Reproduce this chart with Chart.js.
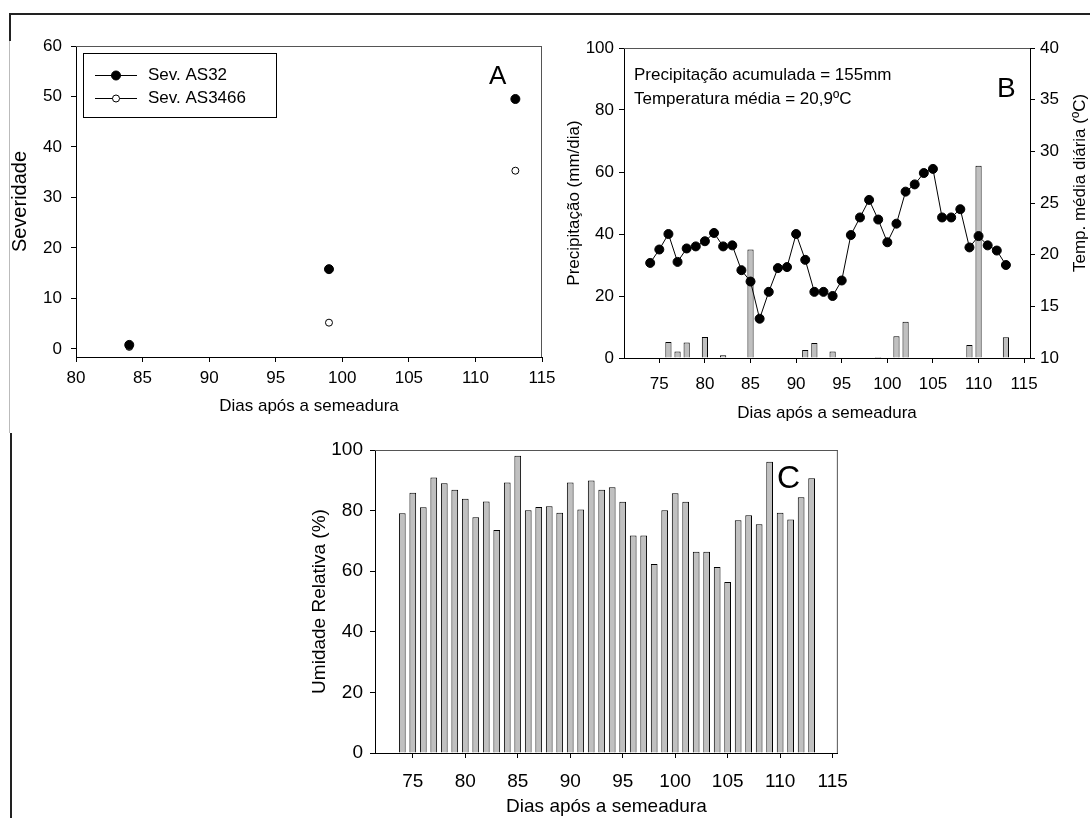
<!DOCTYPE html>
<html>
<head>
<meta charset="utf-8">
<script src="https://cdn.jsdelivr.net/npm/chart.js@4.4.0/dist/chart.umd.min.js"></script>
<style>
  html, body { margin: 0; padding: 0; background: #fff; }
  body { width: 1090px; height: 818px; position: relative; overflow: hidden; font-family: "Liberation Sans", Arial, sans-serif; }
  canvas { position: absolute; }
  .ln { position: absolute; }
  .txt { position: absolute; color: #000; white-space: nowrap; line-height: 1; transform: translateY(-50%); }
</style>
</head>
<body>
<!-- page border -->
<div class="ln" style="left:9px;top:13px;width:1081px;height:2px;background:#222"></div>
<div class="ln" style="left:9px;top:13px;width:2px;height:28px;background:#222"></div>
<div class="ln" style="left:9px;top:41px;width:1px;height:392px;background:#bbb"></div>
<div class="ln" style="left:10px;top:433px;width:2px;height:385px;background:#222"></div>

<canvas id="chartA" width="562" height="420" style="left:0;top:0"></canvas>
<canvas id="chartB" width="550" height="430" style="left:540px;top:0"></canvas>
<canvas id="chartC" width="560" height="388" style="left:300px;top:430px"></canvas>

<div class="txt" style="left:489px;top:75px;font-size:26px">A</div>
<div class="txt" style="left:634px;top:74px;font-size:17px">Precipitação acumulada = 155mm</div>
<div class="txt" style="left:634px;top:98px;font-size:17px">Temperatura média = 20,9ºC</div>
<div class="txt" style="left:997px;top:88px;font-size:28px">B</div>
<div class="txt" style="left:777px;top:477px;font-size:32px">C</div>

<script>
// ---- dados ----
// Painel A: severidade
const diasA = [84, 99, 113];
const sevAS32 = [0.8, 15.8, 49.5];
const sevAS3466 = [0.4, 5.2, 35.3];
const xTicksA = [80, 85, 90, 95, 100, 105, 110, 115];
const yTicksA = [0, 10, 20, 30, 40, 50, 60];

// Painel B e C: dias após a semeadura
const dias = [74, 75, 76, 77, 78, 79, 80, 81, 82, 83, 84, 85, 86, 87, 88, 89, 90, 91, 92, 93,
              94, 95, 96, 97, 98, 99, 100, 101, 102, 103, 104, 105, 106, 107, 108, 109, 110, 111, 112, 113];
const precipitacao = [0, 0, 5.2, 2.1, 5.0, 0, 6.8, 0, 0.9, 0, 0, 35.0, 0, 0, 0, 0, 0, 2.6, 4.8, 0,
                      2.1, 0, 0, 0, 0, 0.3, 0, 7.0, 11.7, 0, 0, 0, 0, 0, 0, 4.2, 62.0, 0, 0, 6.7];
const temperatura = [19.2, 20.5, 22.0, 19.3, 20.6, 20.8, 21.3, 22.1, 20.8, 20.9, 18.5, 17.4, 13.8, 16.4, 18.7, 18.8, 22.0, 19.5, 16.4, 16.4,
                     16.0, 17.5, 21.9, 23.6, 25.3, 23.4, 21.2, 23.0, 26.1, 26.8, 27.9, 28.3, 23.6, 23.6, 24.4, 20.7, 21.8, 20.9, 20.4, 19.0];
const umidade = [79.1, 85.9, 81.1, 90.9, 89.0, 86.9, 83.9, 77.8, 83.0, 73.6, 89.3, 98.1, 80.1, 81.2, 81.4, 79.3, 89.3, 80.4, 89.9, 86.9,
                 87.7, 82.9, 71.8, 71.8, 62.4, 80.1, 85.7, 82.9, 66.4, 66.4, 61.4, 56.4, 76.8, 78.5, 75.5, 96.1, 79.3, 77.1, 84.4, 90.7];
const xTicksDias = [75, 80, 85, 90, 95, 100, 105, 110, 115];
const yTicksPrec = [0, 20, 40, 60, 80, 100];
const yTicksTemp = [10, 15, 20, 25, 30, 35, 40];
const yTicksUmid = [0, 20, 40, 60, 80, 100];
const tituloTemp = 'Temp. média diária (ºC)';

Chart.defaults.font.family = "'Liberation Sans', Arial, sans-serif";
Chart.defaults.color = '#000';
Chart.defaults.animation = false;

const fixTicks = arr => scale => { scale.ticks = arr.map(v => ({ value: v })); };
const fixWidth = w => scale => { scale.width = w; };
const fixHeight = h => scale => { scale.height = h; };

// moldura superior / direita do gráfico
const frame = {
    id: 'frame',
    afterDraw(chart, args, opts) {
        const { ctx, chartArea: a } = chart;
        ctx.save();
        ctx.strokeStyle = '#555';
        ctx.lineWidth = 1;
        ctx.beginPath();
        ctx.moveTo(a.left, a.top + 0.5);
        ctx.lineTo(a.right, a.top + 0.5);
        if (opts.right) {
            ctx.moveTo(a.right - 0.5, a.top);
            ctx.lineTo(a.right - 0.5, a.bottom);
        }
        ctx.stroke();
        ctx.restore();
    }
};

// legenda com caixa (painel A)
const boxLegend = {
    id: 'boxLegend',
    afterDraw(chart) {
        const { ctx, chartArea: a } = chart;
        const x0 = Math.round(a.left + 7), y0 = Math.round(a.top + 7);
        ctx.save();
        ctx.strokeStyle = '#000';
        ctx.lineWidth = 1;
        ctx.strokeRect(x0 + 0.5, y0 + 0.5, 193, 64);
        ctx.font = "17px 'Liberation Sans', Arial, sans-serif";
        ctx.textBaseline = 'middle';
        chart.data.datasets.forEach((ds, i) => {
            const y = y0 + 22 + i * 23 + 0.5;
            ctx.beginPath();
            ctx.moveTo(x0 + 12, y);
            ctx.lineTo(x0 + 54, y);
            ctx.strokeStyle = '#000';
            ctx.stroke();
            ctx.beginPath();
            ctx.arc(x0 + 33, y, ds.pointRadius, 0, Math.PI * 2);
            ctx.fillStyle = ds.pointBackgroundColor;
            ctx.fill();
            ctx.stroke();
            ctx.fillStyle = '#000';
            ctx.fillText(ds.label, x0 + 65, y);
        });
        ctx.restore();
    }
};

// título do eixo direito lido de baixo para cima
const rightTitle = {
    id: 'rightTitle',
    afterDraw(chart) {
        const { ctx } = chart;
        const s = chart.scales.y1;
        ctx.save();
        ctx.translate(s.right - 10, (s.top + s.bottom) / 2 - 20);
        ctx.rotate(-Math.PI / 2);
        ctx.font = "17px 'Liberation Sans', Arial, sans-serif";
        ctx.fillStyle = '#000';
        ctx.textAlign = 'center';
        ctx.textBaseline = 'middle';
        ctx.fillText(tituloTemp, 0, 0);
        ctx.restore();
    }
};

const axisCommon = (tickPad, fontSize) => ({
    border: { display: true, color: '#000', width: 1 },
    grid: { drawOnChartArea: false, drawTicks: true, tickLength: 5, color: '#000', offset: false },
    ticks: { padding: tickPad, font: { size: fontSize }, color: '#000', maxRotation: 0, autoSkip: false }
});

// ---- Painel A ----
new Chart(document.getElementById('chartA'), {
    type: 'scatter',
    data: {
        datasets: [
            {
                label: 'Sev. AS32',
                data: diasA.map((d, i) => ({ x: d, y: sevAS32[i] })),
                pointRadius: 4.5,
                pointBackgroundColor: '#000',
                pointBorderColor: '#000',
                pointBorderWidth: 1
            },
            {
                label: 'Sev. AS3466',
                data: diasA.map((d, i) => ({ x: d, y: sevAS3466[i] })),
                pointRadius: 3.5,
                pointBackgroundColor: '#fff',
                pointBorderColor: '#000',
                pointBorderWidth: 1
            }
        ]
    },
    options: {
        responsive: false,
        layout: { padding: { top: 46, right: 20, bottom: 0, left: 0 } },
        plugins: { legend: { display: false }, tooltip: { enabled: false }, frame: { right: true } },
        scales: {
            x: {
                type: 'linear', min: 80, max: 115,
                ...axisCommon(6, 17),
                afterBuildTicks: fixTicks(xTicksA),
                afterFit: fixHeight(63),
                title: { display: true, text: 'Dias após a semeadura', font: { size: 17 }, padding: { top: 0, bottom: 3 } }
            },
            y: {
                type: 'linear', min: -1.6, max: 60,
                ...axisCommon(9, 17),
                afterBuildTicks: fixTicks(yTicksA),
                afterFit: fixWidth(76),
                title: { display: true, text: 'Severidade', font: { size: 20 }, padding: { top: 8, bottom: 0 } }
            }
        }
    },
    plugins: [frame, boxLegend]
});

// ---- Painel B ----
new Chart(document.getElementById('chartB'), {
    type: 'bar',
    data: {
        datasets: [
            {
                type: 'line',
                label: 'Temperatura',
                data: dias.map((d, i) => ({ x: d, y: temperatura[i] })),
                yAxisID: 'y1',
                borderColor: '#000',
                borderWidth: 1,
                pointRadius: 4.5,
                pointBackgroundColor: '#000',
                pointBorderColor: '#000',
                tension: 0,
                order: 0
            },
            {
                label: 'Precipitação',
                data: dias.map((d, i) => ({ x: d, y: precipitacao[i] })),
                yAxisID: 'y',
                backgroundColor: '#c0c0c0',
                borderColor: '#000',
                borderWidth: 1,
                categoryPercentage: 0.8,
                barPercentage: 0.85,
                order: 1
            }
        ]
    },
    options: {
        responsive: false,
        layout: { padding: { top: 48, right: 0, bottom: 0, left: 0 } },
        plugins: { legend: { display: false }, tooltip: { enabled: false }, frame: { right: false } },
        scales: {
            x: {
                type: 'linear', min: 71.13, max: 115.64, offset: false,
                ...axisCommon(11, 17),
                afterBuildTicks: fixTicks(xTicksDias),
                afterFit: fixHeight(72),
                title: { display: true, text: 'Dias após a semeadura', font: { size: 17 }, padding: { top: 0, bottom: 6 } }
            },
            y: {
                type: 'linear', position: 'left', min: 0, max: 100,
                ...axisCommon(5, 17),
                afterBuildTicks: fixTicks(yTicksPrec),
                afterFit: fixWidth(84),
                title: { display: true, text: 'Precipitação (mm/dia)', font: { size: 17 }, padding: { top: 24, bottom: 0 } }
            },
            y1: {
                type: 'linear', position: 'right', min: 10, max: 40,
                ...axisCommon(5, 17),
                afterBuildTicks: fixTicks(yTicksTemp),
                afterFit: fixWidth(60)
            }
        }
    },
    plugins: [frame, rightTitle]
});

// ---- Painel C ----
new Chart(document.getElementById('chartC'), {
    type: 'bar',
    data: {
        datasets: [{
            label: 'Umidade Relativa',
            data: dias.map((d, i) => ({ x: d, y: umidade[i] })),
            backgroundColor: '#c0c0c0',
            borderColor: '#000',
            borderWidth: 1,
            categoryPercentage: 0.8,
            barPercentage: 0.8
        }]
    },
    options: {
        responsive: false,
        layout: { padding: { top: 20, right: 21, bottom: 0, left: 0 } },
        plugins: { legend: { display: false }, tooltip: { enabled: false }, frame: { right: true } },
        scales: {
            x: {
                type: 'linear', min: 71.4, max: 115.5, offset: false,
                ...axisCommon(12, 19),
                afterBuildTicks: fixTicks(xTicksDias),
                afterFit: fixHeight(65),
                title: { display: true, text: 'Dias após a semeadura', font: { size: 19 }, padding: { top: 0, bottom: 0 } }
            },
            y: {
                type: 'linear', min: 0, max: 100,
                ...axisCommon(7, 19),
                afterBuildTicks: fixTicks(yTicksUmid),
                afterFit: fixWidth(75),
                title: { display: true, text: 'Umidade Relativa (%)', font: { size: 19 }, padding: { top: 8, bottom: 0 } }
            }
        }
    },
    plugins: [frame]
});
</script>
</body>
</html>
